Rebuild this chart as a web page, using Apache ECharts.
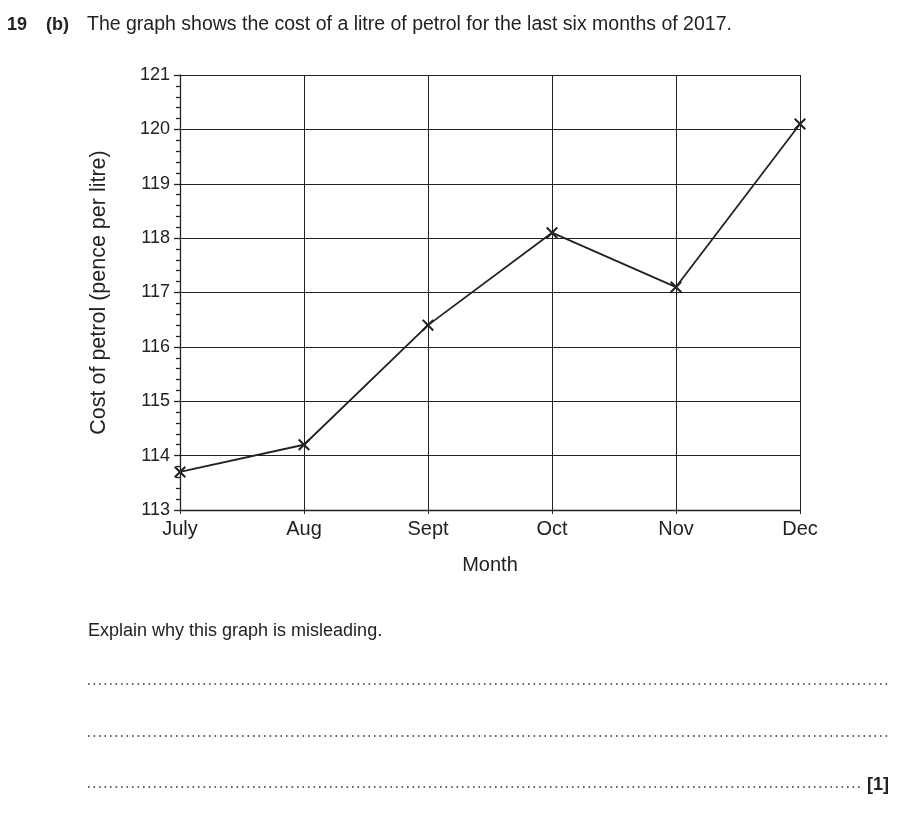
<!DOCTYPE html>
<html><head><meta charset="utf-8">
<script src="https://cdn.jsdelivr.net/npm/echarts@6/dist/echarts.min.js"></script>
<style>html,body{margin:0;padding:0;background:#fff}#c{width:900px;height:815px}</style>
</head><body><div id="c"></div>
<script>
const months = ['July','Aug','Sept','Oct','Nov','Dec'];
const cost = [113.7, 114.2, 116.4, 118.1, 117.1, 120.1];
const yTicks = {min:113, max:121, interval:1};
const FONT = 'Liberation Sans, Arial, sans-serif';
const C = '#222';
const cross = 'path://M0,1.2 L1.2,0 L5,3.8 L8.8,0 L10,1.2 L6.2,5 L10,8.8 L8.8,10 L5,6.2 L1.2,10 L0,8.8 L3.8,5 Z';
const chart = echarts.init(document.getElementById('c'));
function dotted(y, x2){
  return {type:'line', shape:{x1:88,y1:y,x2:x2,y2:y}, style:{stroke:'#333', lineWidth:1.6, lineDash:[1.6,3.9]}};
}
chart.setOption({
  animation:false,
  grid:{left:180, right:100, top:75, bottom:305},
  xAxis:{type:'category', data:months, boundaryGap:false,
    axisLine:{lineStyle:{color:C, width:1.3}},
    axisTick:{show:true, length:4, lineStyle:{color:C}},
    axisLabel:{color:C, fontSize:20, fontFamily:FONT, margin:9},
    splitLine:{show:true, lineStyle:{color:'#222', width:1}},
    name:'Month', nameLocation:'middle', nameGap:45,
    nameTextStyle:{color:C, fontSize:20, fontFamily:FONT}},
  yAxis:{type:'value', min:yTicks.min, max:yTicks.max, interval:yTicks.interval,
    axisLine:{show:true, lineStyle:{color:C, width:1.3}},
    axisTick:{show:true, length:6, lineStyle:{color:C, width:1.3}},
    minorTick:{show:true, splitNumber:5, length:4, lineStyle:{color:C, width:1.3}},
    axisLabel:{color:C, fontSize:18, fontFamily:FONT, margin:10},
    splitLine:{show:true, lineStyle:{color:'#222', width:1}},
    name:'Cost of petrol (pence per litre)', nameLocation:'middle', nameGap:70, nameRotate:90,
    nameTextStyle:{color:C, fontSize:21.5, fontFamily:FONT}},
  series:[{type:'line', data:cost, symbol:cross, symbolSize:12,
    itemStyle:{color:C}, lineStyle:{color:C, width:1.8}}],
  graphic:[
    {type:'text', left:7, top:16, style:{text:'19', fontSize:18, fontWeight:'bold', fontFamily:FONT, fill:C}},
    {type:'text', left:46, top:16, style:{text:'(b)', fontSize:18, fontWeight:'bold', fontFamily:FONT, fill:C}},
    {type:'text', left:87, top:15, style:{text:'The graph shows the cost of a litre of petrol for the last six months of 2017.', fontSize:19.5, fontFamily:FONT, fill:C}},
    {type:'text', left:88, top:622, style:{text:'Explain why this graph is misleading.', fontSize:18, fontFamily:FONT, fill:C}},
    dotted(684, 888), dotted(736, 888), dotted(787, 862),
    {type:'text', left:867, top:776, style:{text:'[1]', fontSize:18, fontWeight:'bold', fontFamily:FONT, fill:C}}
  ]
});
</script></body></html>
